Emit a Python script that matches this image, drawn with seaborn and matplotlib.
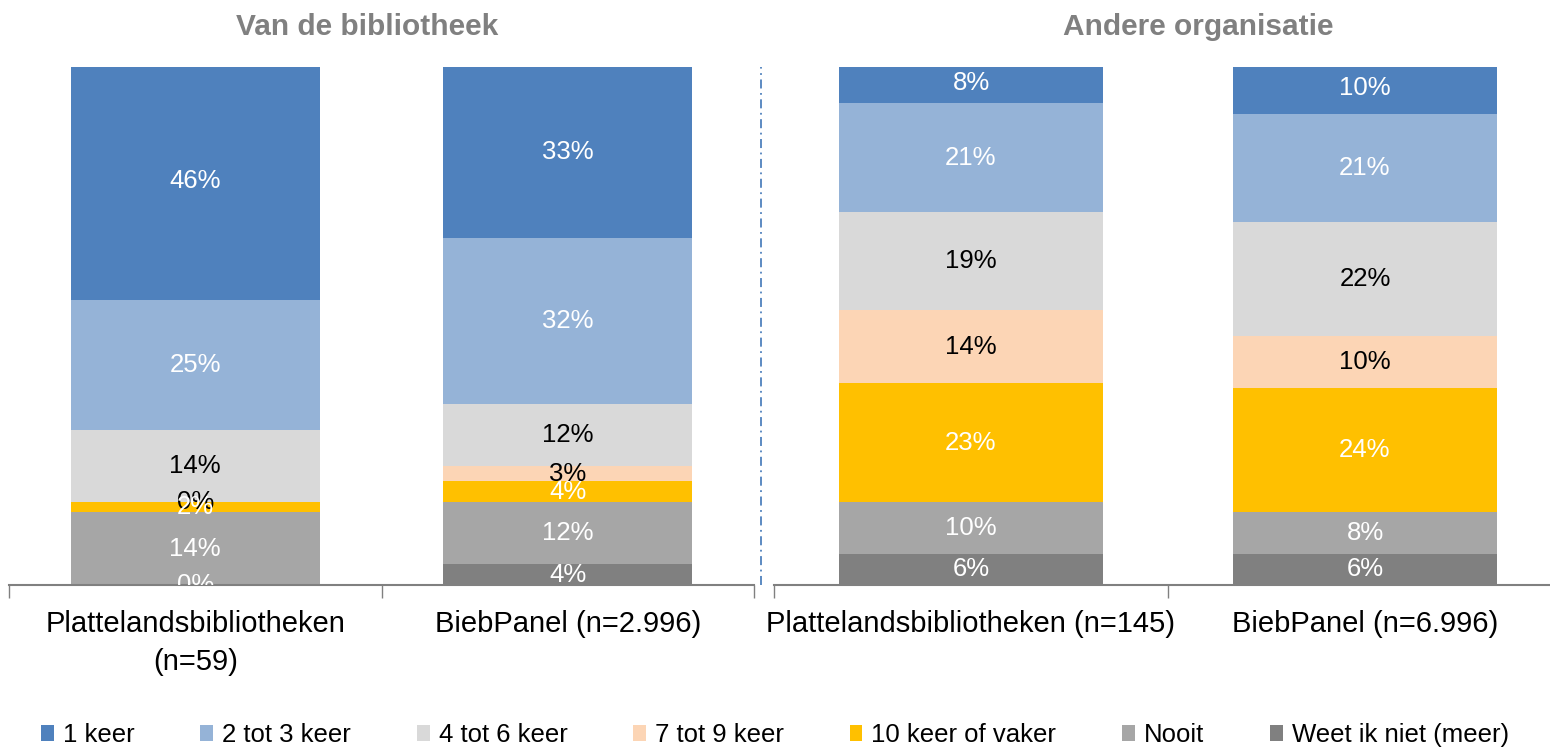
import matplotlib.lines as mlines
import matplotlib.pyplot as plt
import pandas as pd
import seaborn as sns
from matplotlib.patches import Patch


sns.set_theme(style="white")
plt.rcParams["font.family"] = ["Liberation Sans", "DejaVu Sans"]


# stack order, top of the bar first
CATEGORIES = [
    "1 keer",
    "2 tot 3 keer",
    "4 tot 6 keer",
    "7 tot 9 keer",
    "10 keer of vaker",
    "Nooit",
    "Weet ik niet (meer)",
]

PALETTE = {
    "1 keer": "#4F81BD",
    "2 tot 3 keer": "#95B3D7",
    "4 tot 6 keer": "#D9D9D9",
    "7 tot 9 keer": "#FCD5B5",
    "10 keer of vaker": "#FFC000",
    "Nooit": "#A6A6A6",
    "Weet ik niet (meer)": "#808080",
}

LABEL_COLORS = {
    "1 keer": "white",
    "2 tot 3 keer": "white",
    "4 tot 6 keer": "black",
    "7 tot 9 keer": "black",
    "10 keer of vaker": "white",
    "Nooit": "white",
    "Weet ik niet (meer)": "white",
}

PANEL_TITLES = ["Van de bibliotheek", "Andere organisatie"]

LEFT_GROUPS = ["Plattelandsbibliotheken\n(n=59)", "BiebPanel (n=2.996)"]
RIGHT_GROUPS = ["Plattelandsbibliotheken (n=145)", "BiebPanel (n=6.996)"]

# percentages per category, same order as CATEGORIES
LEFT_PLATTELAND = [46, 25, 14, 0, 2, 14, 0]
LEFT_BIEBPANEL = [33, 32, 12, 3, 4, 12, 4]
RIGHT_PLATTELAND = [8, 21, 19, 14, 23, 10, 6]
RIGHT_BIEBPANEL = [10, 21, 22, 10, 24, 8, 6]


FIG_W, FIG_H = 1550, 747


def draw_panel(ax, groups, series):
    wide = pd.DataFrame({g: s for g, s in zip(groups, series)}, index=CATEGORIES)
    # top edge of each segment (cumulative from the bottom of the stack)
    tops = wide.iloc[::-1].cumsum().iloc[::-1]

    # draw tallest first so each smaller cumulative bar covers the one behind
    for cat in CATEGORIES:
        sns.barplot(
            x=groups,
            y=tops.loc[cat].values,
            order=groups,
            color=PALETTE[cat],
            saturation=1,
            width=0.668,
            linewidth=0,
            errorbar=None,
            ax=ax,
        )

    for i, g in enumerate(groups):
        for cat in CATEGORIES:
            v = wide.loc[cat, g]
            ax.text(
                i,
                tops.loc[cat, g] - v / 2,
                f"{v}%",
                ha="center",
                va="center",
                fontsize=18.5,
                color=LABEL_COLORS[cat],
                clip_on=True,
            )

    ax.set_ylim(0, 100)
    ax.set_xlim(-0.5, 1.5)
    ax.set_yticks([])
    ax.set_xlabel("")
    ax.set_ylabel("")
    sns.despine(ax=ax, left=True)
    ax.spines["bottom"].set_color("#808080")
    ax.spines["bottom"].set_linewidth(1.5)
    ax.set_xticks([-0.5, 0.5, 1.5], minor=True)
    ax.tick_params(axis="x", which="minor", bottom=True, length=9,
                   width=1, color="#808080", direction="out")
    ax.tick_params(axis="x", which="major", length=0, pad=18,
                   labelsize=21, labelcolor="black")
    for lbl in ax.get_xticklabels():
        lbl.set_linespacing(1.45)


fig = plt.figure(figsize=(FIG_W / 100, FIG_H / 100), dpi=100)

bottom = (FIG_H - 585) / FIG_H
height = 518 / FIG_H
ax_left = fig.add_axes([9 / FIG_W, bottom, 745 / FIG_W, height])
ax_right = fig.add_axes([774 / FIG_W, bottom, 788 / FIG_W, height])

draw_panel(ax_left, LEFT_GROUPS, [LEFT_PLATTELAND, LEFT_BIEBPANEL])
draw_panel(ax_right, RIGHT_GROUPS, [RIGHT_PLATTELAND, RIGHT_BIEBPANEL])

for x_px, title in zip([367, 1198], PANEL_TITLES):
    fig.text(x_px / FIG_W, 1 - 27 / FIG_H, title, ha="center", va="center",
             fontsize=21.5, fontweight="bold", color="#808080")

# dash-dot separator between the two panels
fig.add_artist(mlines.Line2D(
    [761 / FIG_W, 761 / FIG_W],
    [bottom, bottom + height],
    transform=fig.transFigure,
    color="#4F81BD",
    linewidth=1.3,
    linestyle=(0, (5, 2.5, 1, 2.5)),
))

handles = [Patch(facecolor=PALETTE[c], edgecolor="none", label=c) for c in CATEGORIES]
fig.legend(
    handles=handles,
    loc="center",
    bbox_to_anchor=(0.5, 12 / FIG_H),
    ncol=7,
    frameon=False,
    fontsize=18.5,
    labelcolor="black",
    handlelength=0.5,
    handleheight=0.6,
    handletextpad=0.35,
    columnspacing=2.56,
)

fig.savefig("out.png", dpi=100)
